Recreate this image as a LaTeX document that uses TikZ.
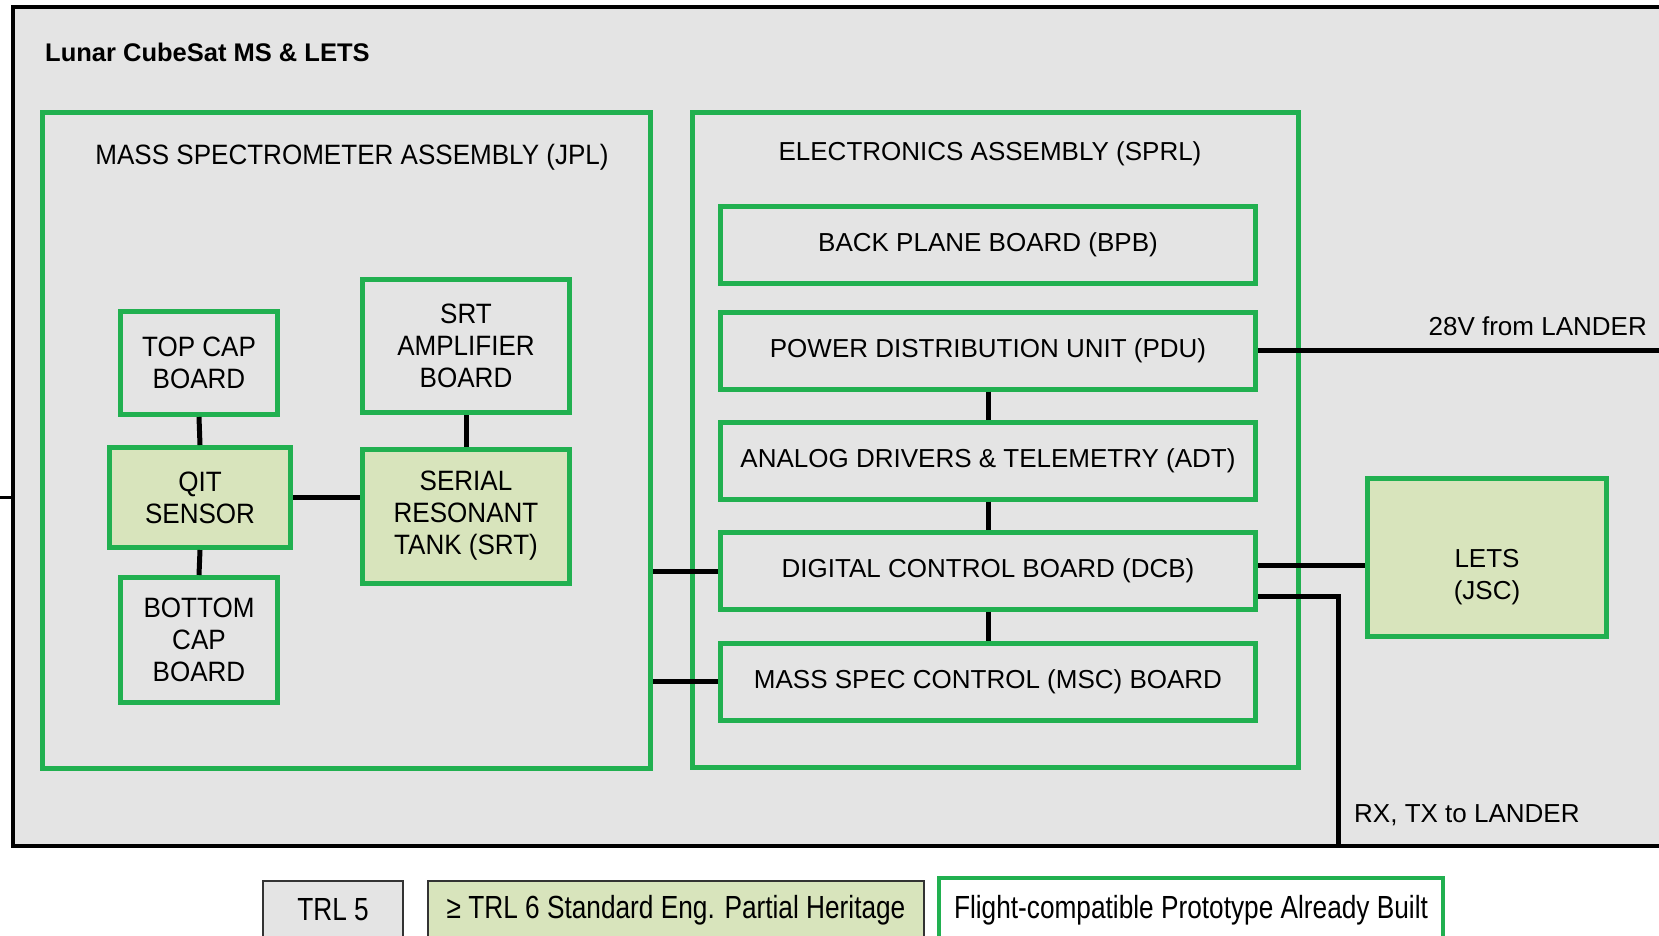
\documentclass[tikz,border=0pt]{standalone}
\usepackage{fontspec}
\setmainfont{Liberation Sans}
\newfontfamily\condfont[FakeStretch=0.93]{Liberation Sans}
\newfontfamily\legendfont[FakeStretch=0.82]{Liberation Sans}
\usetikzlibrary{calc}
\definecolor{gr}{RGB}{33,176,80}
\definecolor{lgr}{RGB}{216,228,188}
\definecolor{bg}{RGB}{228,228,228}

\begin{document}
\begin{tikzpicture}[
    x=1pt, y=-1pt,
    every node/.style={inner sep=0pt, align=center},
    box/.style={draw=gr, line width=5pt, fill=bg},
    heritage/.style={box, fill=lgr},
    link/.style={line width=5pt},
    msa/.style={font=\condfont\fontsize{28}{32}\selectfont},
    ea/.style={font=\fontsize{26}{32}\selectfont},
    legend/.style={font=\legendfont\fontsize{32}{36}\selectfont}]

      \clip (0,0) rectangle (1659,936);
      \fill[white] (0,0) rectangle (1659,936);

      % outer frame
      \node[draw, line width=4pt, fill=bg, minimum width=1667pt, minimum height=839pt] (cubesat) at (846.5,426.5) {};
      \node[anchor=west, font=\bfseries\fontsize{25.5}{30}\selectfont] (title) at (45,52) {Lunar CubeSat MS \& LETS};

      % assemblies
      \node[box, minimum width=608pt, minimum height=656pt] (msa) at (346.5,440.5) {};
      \node[box, minimum width=606pt, minimum height=655pt] (ea) at (995.5,440) {};
      \node[msa] (msalabel) at (352,157) {MASS SPECTROMETER ASSEMBLY (JPL)};
      \node[ea] (ealabel) at (990,154) {ELECTRONICS ASSEMBLY (SPRL)};

      % mass spectrometer
      {
      \node[box, msa, minimum width=157pt, minimum height=103pt] (topcap) at (199,363) {TOP CAP\\BOARD};
      \node[heritage, msa, minimum width=181pt, minimum height=100pt] (qit) at (200,497.5) {QIT\\SENSOR};
      \node[box, msa, minimum width=157pt, minimum height=125pt] (botcap) at (199,640) {BOTTOM\\CAP\\BOARD};
      \node[box, msa, minimum width=207pt, minimum height=133pt] (srtamp) at (466,346) {SRT\\AMPLIFIER\\BOARD};
      \node[heritage, msa, minimum width=207pt, minimum height=134pt] (srt) at (466,516) {SERIAL\\RESONANT\\TANK (SRT)};
      }

      % electronics
      {
      \node[box, ea, minimum width=535pt, minimum height=77pt] (bpb) at (988,245) {BACK PLANE BOARD (BPB)};
      \node[box, ea, minimum width=535pt, minimum height=77pt] (pdu) at (988,350.5) {POWER DISTRIBUTION UNIT (PDU)};
      \node[box, ea, minimum width=535pt, minimum height=77pt] (adt) at (988,460.5) {ANALOG DRIVERS \& TELEMETRY (ADT)};
      \node[box, ea, minimum width=535pt, minimum height=77pt] (dcb) at (988,571) {DIGITAL CONTROL BOARD (DCB)};
      \node[box, ea, minimum width=535pt, minimum height=77pt] (msc) at (988,681.5) {MASS SPEC CONTROL (MSC) BOARD};
      }

      \node[heritage, minimum width=239pt, minimum height=158pt,
            label={[ea, yshift=-20pt]center:LETS\\(JSC)}] (lets) at (1487,557.5) {};

      \draw[link] (topcap.south) -- (qit.north);
      \draw[link] (qit.south) -- (botcap.north);
      \draw[link] (qit.east) -- (qit.east -| srt.west);
      \draw[link] (srtamp.south) -- (srt.north);

      \draw[link] (dcb.west) -- (dcb.west -| msa.east);
      \draw[link] (msc.west) -- (msc.west -| msa.east);

      \foreach \a/\b in {pdu/adt, adt/dcb, dcb/msc}
        \draw[link] (\a.south) -- (\b.north);

      % lander side
      \coordinate (pwr) at (1670,348);
      \draw[link] (pdu.east) -- (pdu.east -| pwr);
      \node[ea, anchor=east] (pwrlabel) at (1647,326) {28V from LANDER};

      \coordinate (dcblets) at ([yshift=6pt]dcb.east);
      \draw[link] (dcblets) -- (dcblets -| lets.west);

      \coordinate (dcbrx) at ([yshift=-25pt]dcb.east);
      \coordinate (rxdown) at (1338,846);
      \draw[link] (dcbrx) -| (rxdown);
      \node[ea, anchor=west] (rxlabel) at (1354,815) {RX, TX to LANDER};

      \coordinate (ext) at (0,497);
      \draw[line width=3pt] (ext) -- (ext -| cubesat.west);

      % legend
      \node[legend, draw=black!80, line width=2pt, fill=bg, minimum width=140pt, minimum height=58pt] (trl5) at (333,910) {TRL 5};
      \node[legend, draw=black!80, line width=2pt, fill=lgr, minimum width=496pt, minimum height=58pt] (trl6) at (676,910) {≥ TRL 6 Standard Eng. Partial Heritage};
      \node[legend, draw=gr, line width=4pt, fill=white, minimum width=504pt, minimum height=64pt] (built) at (1191,910) {Flight-compatible Prototype Already Built};

    \end{tikzpicture}
\end{document}
